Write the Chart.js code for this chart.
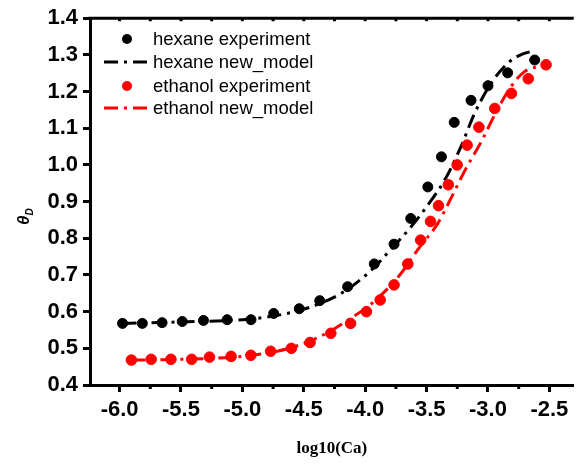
<!DOCTYPE html>
<html>
<head>
<meta charset="utf-8">
<script src="https://cdn.jsdelivr.net/npm/chart.js@4.4.0/dist/chart.umd.min.js"></script>
<style>
  html, body { margin: 0; padding: 0; background: #fff; }
</style>
</head>
<body>
<canvas id="chart" width="580" height="464"></canvas>
<script>
// datos
const hexaneExpX = [-5.976, -5.815, -5.654, -5.49, -5.317, -5.124, -4.93, -4.745, -4.537, -4.37, -4.143,
  -3.926, -3.765, -3.629, -3.49, -3.379, -3.275, -3.138, -3.0, -2.84, -2.62];
const hexaneExpY = [0.568, 0.568, 0.570, 0.573, 0.576, 0.578, 0.578, 0.595, 0.608, 0.630, 0.668,
  0.730, 0.784, 0.854, 0.940, 1.022, 1.116, 1.176, 1.216, 1.251, 1.286];

const hexaneModelX = [-5.976, -5.5, -5.0, -4.75, -4.54, -4.37, -4.17, -3.96, -3.79, -3.63, -3.47,
  -3.35, -3.22, -3.11, -2.97, -2.83, -2.72, -2.64];
const hexaneModelY = [0.568, 0.572, 0.578, 0.588, 0.603, 0.622, 0.655, 0.71, 0.77, 0.83, 0.90,
  0.96, 1.05, 1.14, 1.225, 1.28, 1.302, 1.31];

const ethanolExpX = [-5.904, -5.743, -5.582, -5.413, -5.268, -5.092, -4.931, -4.77, -4.601, -4.449,
  -4.28, -4.119, -3.99, -3.878, -3.765, -3.653, -3.548, -3.468, -3.403, -3.323, -3.251, -3.17,
  -3.074, -2.945, -2.809, -2.672, -2.527];
const ethanolExpY = [0.468, 0.470, 0.470, 0.470, 0.476, 0.478, 0.481, 0.492, 0.500, 0.516,
  0.541, 0.568, 0.600, 0.632, 0.673, 0.730, 0.795, 0.846, 0.889, 0.946, 1.0, 1.054,
  1.103, 1.154, 1.195, 1.235, 1.273];

const ethanolModelX = [-5.904, -5.5, -5.0, -4.75, -4.57, -4.35, -4.08, -3.92, -3.73, -3.57, -3.41,
  -3.30, -3.18, -3.06, -2.94, -2.82, -2.7, -2.56];
const ethanolModelY = [0.468, 0.470, 0.478, 0.49, 0.505, 0.535, 0.59, 0.63, 0.695, 0.77, 0.84,
  0.91, 0.99, 1.06, 1.14, 1.21, 1.255, 1.27];

const xTicks = [-6.0, -5.5, -5.0, -4.5, -4.0, -3.5, -3.0, -2.5];
const yTicks = [0.4, 0.5, 0.6, 0.7, 0.8, 0.9, 1.0, 1.1, 1.2, 1.3, 1.4];

const seriesNames = ['hexane experiment', 'hexane new_model', 'ethanol experiment', 'ethanol new_model'];

function pts(xs, ys) { return xs.map((x, i) => ({ x: x, y: ys[i] })); }

const dashDot = [14, 6, 3, 6];

// marco superior, ticks menores, leyenda y titulo del eje y
const extras = {
  id: 'extras',
  afterDraw(chart) {
    const ctx = chart.ctx;
    const area = chart.chartArea;
    const xs = chart.scales.x;
    ctx.save();
    ctx.strokeStyle = '#000';
    ctx.lineWidth = 3;
    ctx.beginPath();
    ctx.moveTo(area.left - 1.5, area.top);
    ctx.lineTo(area.right, area.top);
    ctx.stroke();

    // ticks menores
    ctx.lineWidth = 3;
    for (let v = -6.0; v <= -2.3; v += 0.25) {
      const px = xs.getPixelForValue(v);
      const major = Math.abs(v * 2 - Math.round(v * 2)) < 1e-6;
      ctx.beginPath();
      if (!major) {
        ctx.moveTo(px, area.bottom);
        ctx.lineTo(px, area.bottom + 4);
      }
      ctx.moveTo(px, area.top);
      ctx.lineTo(px, area.top + 3);
      ctx.stroke();
    }

    // leyenda
    const ds = chart.data.datasets;
    const rows = [39, 62, 86, 108];
    ctx.font = '18.5px "Liberation Sans", Arial, sans-serif';
    ctx.textBaseline = 'middle';
    ctx.textAlign = 'left';
    rows.forEach((y, i) => {
      const d = ds[i];
      if (d.showLine) {
        ctx.strokeStyle = d.borderColor;
        ctx.lineWidth = 3;
        ctx.setLineDash(dashDot);
        ctx.beginPath();
        ctx.moveTo(104, y);
        ctx.lineTo(147, y);
        ctx.stroke();
        ctx.setLineDash([]);
      } else {
        ctx.fillStyle = d.backgroundColor;
        ctx.beginPath();
        ctx.arc(127, y, 5, 0, Math.PI * 2);
        ctx.fill();
      }
      ctx.fillStyle = '#000';
      ctx.fillText(d.label, 153, y + 1);
    });

    // titulo eje y: theta_D
    ctx.translate(29, 220);
    ctx.rotate(-Math.PI / 2);
    ctx.fillStyle = '#000';
    ctx.textBaseline = 'alphabetic';
    ctx.font = 'italic bold 17px "Liberation Sans", Arial, sans-serif';
    ctx.fillText('θ', -5, 0);
    const w = ctx.measureText('θ').width;
    ctx.font = 'italic bold 10px "Liberation Sans", Arial, sans-serif';
    ctx.fillText('D', -5 + w, 4);
    ctx.restore();
  }
};

const tickFont = { family: '"Liberation Sans", Arial, sans-serif', size: 22, weight: 'bold' };

new Chart(document.getElementById('chart'), {
  type: 'scatter',
  data: {
    datasets: [
      {
        label: seriesNames[0],
        data: pts(hexaneExpX, hexaneExpY),
        backgroundColor: '#000', borderColor: '#000',
        pointRadius: 5, pointHoverRadius: 5, showLine: false, order: 1
      },
      {
        label: seriesNames[1],
        data: pts(hexaneModelX, hexaneModelY),
        borderColor: '#000', backgroundColor: '#000',
        showLine: true, pointRadius: 0, borderWidth: 3, borderDash: dashDot,
        cubicInterpolationMode: 'monotone', order: 2
      },
      {
        label: seriesNames[2],
        data: pts(ethanolExpX, ethanolExpY),
        backgroundColor: '#ff0000', borderColor: '#ff0000',
        pointRadius: 5.3, pointHoverRadius: 5.3, showLine: false, order: 1
      },
      {
        label: seriesNames[3],
        data: pts(ethanolModelX, ethanolModelY),
        borderColor: '#ff0000', backgroundColor: '#ff0000',
        showLine: true, pointRadius: 0, borderWidth: 3, borderDash: dashDot,
        cubicInterpolationMode: 'monotone', order: 2
      }
    ]
  },
  options: {
    responsive: false,
    animation: false,
    devicePixelRatio: 1,
    layout: { padding: { top: 15, right: 0, left: 0, bottom: 0 } },
    plugins: { legend: { display: false }, tooltip: { enabled: false } },
    scales: {
      x: {
        type: 'linear',
        min: -6.241,
        max: -2.302,
        afterBuildTicks: s => { s.ticks = xTicks.map(v => ({ value: v })); },
        afterFit: s => { s.height = 79; },
        ticks: {
          font: tickFont, color: '#000', padding: 5, maxRotation: 0, autoSkip: false,
          callback: v => v.toFixed(1)
        },
        grid: { drawOnChartArea: false, drawTicks: true, tickLength: 7, tickWidth: 3, tickColor: '#000' },
        border: { display: true, width: 3, color: '#000' },
        title: {
          display: true, text: 'log10(Ca)', color: '#000',
          font: { family: '"Liberation Serif", "Times New Roman", serif', size: 17, weight: 'bold' },
          padding: { top: 0, bottom: 5 }
        }
      },
      y: {
        type: 'linear',
        min: 0.4,
        max: 1.4,
        afterBuildTicks: s => { s.ticks = yTicks.map(v => ({ value: v })); },
        afterFit: s => { s.width = 90; },
        ticks: { font: tickFont, color: '#000', padding: 5, callback: v => v.toFixed(1) },
        grid: { drawOnChartArea: false, drawTicks: true, tickLength: 7, tickWidth: 3, tickColor: '#000' },
        border: { display: true, width: 3, color: '#000' }
      }
    }
  },
  plugins: [extras]
});
</script>
</body>
</html>
